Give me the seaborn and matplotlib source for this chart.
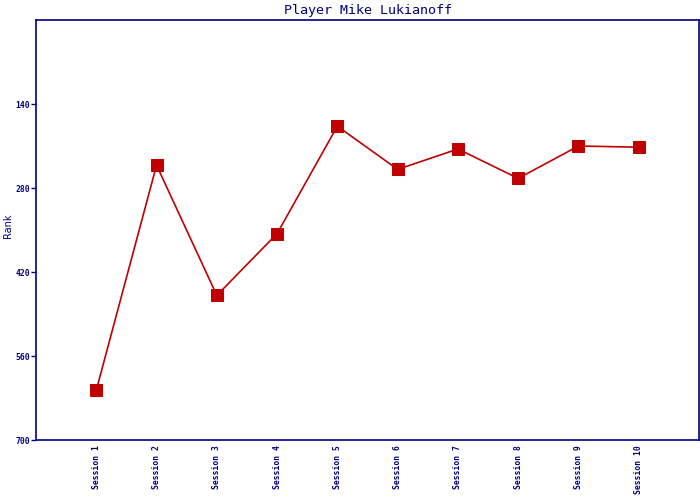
import matplotlib
matplotlib.use("Agg")
import matplotlib.pyplot as plt
import seaborn as sns
import pandas as pd

sessions = ["Session 1", "Session 2", "Session 3", "Session 4", "Session 5",
            "Session 6", "Session 7", "Session 8", "Session 9", "Session 10"]
ranks = [617, 242, 459, 356, 177, 249, 215, 264, 210, 212]
y_ticks = [140, 280, 420, 560, 700]

NAVY = "#000080"
RED = "#c00000"

sns.set_style("white")
plt.rcParams["font.family"] = ["DejaVu Sans Mono", "DejaVu Sans"]

df = pd.DataFrame({"Session": sessions, "Rank": ranks})

fig = plt.figure(figsize=(7, 5), dpi=100)
ax = fig.add_axes([36 / 700, 1 - 440 / 500, (699 - 36) / 700, (440 - 20) / 500])

sns.lineplot(data=df, x="Session", y="Rank", sort=False, ax=ax,
             color=RED, linewidth=1.2, marker="s", markersize=8,
             markeredgecolor=RED, markerfacecolor=RED)

ax.set_xlim(-1, 10)
ax.set_ylim(700, 0)
ax.set_yticks(y_ticks)
ax.set_yticklabels([str(t) for t in y_ticks], fontsize=5.8, fontweight="bold", color=NAVY)
ax.set_xticks(range(len(sessions)))
ax.set_xticklabels(sessions, rotation=90, fontsize=5.8, fontweight="bold", color=NAVY,
                   va="top", ha="center")
ax.tick_params(axis="y", length=3.5, width=1, color=NAVY, pad=1, left=True)
ax.tick_params(axis="x", length=0, pad=4)

for s in ax.spines.values():
    s.set_color(NAVY)
    s.set_linewidth(1.2)

ax.set_xlabel("")
ax.set_ylabel("Rank", fontsize=7, color=NAVY, fontfamily="DejaVu Sans")
ax.yaxis.set_label_coords(-0.034, 0.51)
ax.set_title("Player Mike Lukianoff", fontsize=9.6, color=NAVY, pad=4)

fig.savefig("out.png", dpi=100)
